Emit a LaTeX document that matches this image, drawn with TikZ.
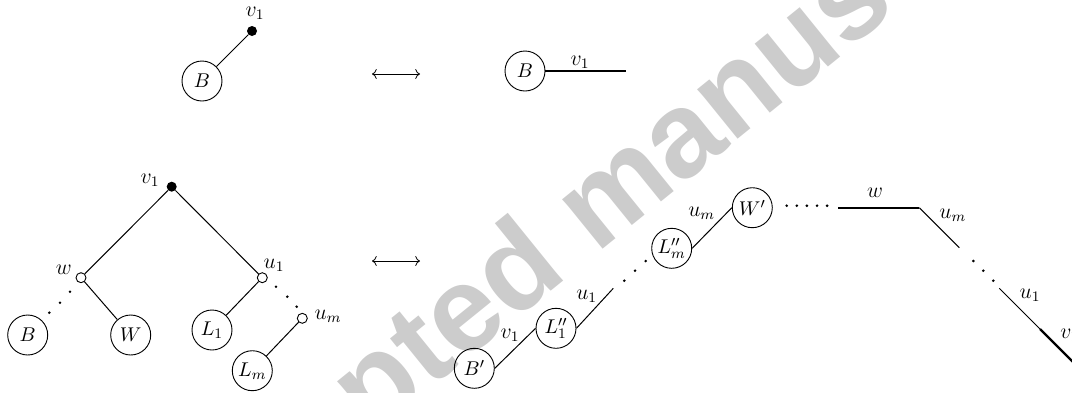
\documentclass[tikz,border=0pt]{standalone}
\usepackage{fontspec}
\newfontfamily\wmfont{Liberation Sans}
\usetikzlibrary{arrows.meta}
\begin{document}
\begin{tikzpicture}[x=0.55pt,y=-0.55pt,
  cir/.style={draw, circle, minimum size=22pt, inner sep=0pt, line width=0.5pt, font=\fontsize{11}{13}\selectfont},
  bigdot/.style={circle, fill, minimum size=5.5pt, inner sep=0pt},
  opendot/.style={circle, draw, fill=white, minimum size=5.5pt, inner sep=0pt, line width=0.5pt},
  ln/.style={line width=0.55pt},
  thk/.style={line width=1.2pt},
  lab/.style={inner sep=0pt, font=\fontsize{12}{14}\selectfont},
  smalldot/.style={circle, fill, minimum size=1.6pt, inner sep=0pt},
  dblarrow/.style={line width=0.45pt, {Computer Modern Rightarrow}-{Computer Modern Rightarrow}},
  wm/.style={text=black!20, font=\wmfont\bfseries\fontsize{66.5}{70}\selectfont, inner sep=0pt, outer sep=0pt, rotate=39}
]
\useasboundingbox (0,0) rectangle (1072,392);
\clip (0,0) rectangle (1072,392);

% watermark
\node[wm, anchor=base] (wmark) at (625,231.4) {Accepted manuscript};

% ---- top left
\node[bigdot] (tv) at (252,31) {};
\node[lab] (tvl) at (255,13) {$v_1$};
\node[cir] (tB) at (202,81) {$B$};
\draw[ln] (tv) -- (tB);

% top arrow
\coordinate (a1l) at (372,74);
\coordinate (a1r) at (420,74);
\draw[dblarrow] (a1l) -- (a1r);

% ---- top right
\node[cir] (trB) at (525,71) {$B$};
\coordinate (tre) at (626,71);
\draw[thk] (trB) -- (tre);
\node[lab] (trl) at (580,62) {$v_1$};

% ---- bottom left tree
\node[bigdot] (bv) at (171.7,186.7) {};
\node[lab] (bvl) at (150,180.5) {$v_1$};
\node[opendot] (bw) at (81,277.7) {};
\node[lab] (bwl) at (63.7,270) {$w$};
\node[opendot] (bu1) at (262.3,277.7) {};
\node[lab] (bu1l) at (274,265.5) {$u_1$};
\node[opendot] (bum) at (302.3,318.3) {};
\node[lab] (buml) at (328,316.5) {$u_m$};
\node[cir] (bB) at (27.7,335) {$B$};
\node[cir] (bW) at (130.7,335) {$W$};
\node[cir] (bL1) at (212,330) {$L_1$};
\node[cir] (bLm) at (252.3,370.7) {$L_m$};
\draw[ln] (bv) -- (bw);
\draw[ln] (bv) -- (bu1);
\draw[ln] (bw) -- (bW);
\draw[ln] (bu1) -- (bL1);
\draw[ln] (bum) -- (bLm);
\node[smalldot] (d1) at (70,291.7) {};
\node[smalldot] (d2) at (60,302.7) {};
\node[smalldot] (d3) at (49.3,312.7) {};
\node[smalldot] (d4) at (276,286.7) {};
\node[smalldot] (d5) at (287.3,296.7) {};
\node[smalldot] (d6) at (296.7,306.7) {};

% bottom arrow
\coordinate (a2l) at (372,261);
\coordinate (a2r) at (420,261);
\draw[dblarrow] (a2l) -- (a2r);

% ---- bottom right chain
\node[cir] (Bp) at (474.3,368.3) {$B'$};
\node[cir] (L1pp) at (556,328.3) {$L_1''$};
\node[cir] (Lmpp) at (671.7,248.3) {$L_m''$};
\node[cir] (Wp) at (752.3,207.7) {$W'$};
\coordinate (c1) at (613.3,288.3);
\coordinate (c2) at (838.3,207.7);
\coordinate (c3) at (919.3,207.7);
\coordinate (c4) at (959.3,247.7);
\coordinate (c5) at (999.3,288.3);
\coordinate (c6) at (1040,329);
\coordinate (c7) at (1082,371);
\draw[ln] (Bp.east) -- (L1pp.west);
\draw[ln] (L1pp.east) -- (c1);
\draw[ln] (Lmpp.east) -- (Wp.west);
\draw[thk] (c2) -- (c3);
\draw[ln] (c3) -- (c4);
\draw[ln] (c5) -- (c6);
\draw[thk] (c6) -- (c7);
\node[lab] (l1) at (510,335) {$v_1$};
\node[lab] (l2) at (586.7,296) {$u_1$};
\node[lab] (l3) at (701.7,213.3) {$u_m$};
\node[lab] (l4) at (875,192.7) {$w$};
\node[lab] (l5) at (952.7,215) {$u_m$};
\node[lab] (l6) at (1030,295) {$u_1$};
\node[lab, anchor=base west] (l7) at (1060,338) {$v_1$};
\node[smalldot] (e1) at (624.3,280.7) {};
\node[smalldot] (e2) at (635,270.7) {};
\node[smalldot] (e3) at (645.7,261) {};
\node[smalldot] (e4) at (786.7,205.7) {};
\node[smalldot] (e5) at (796.8,205.7) {};
\node[smalldot] (e6) at (806.9,205.7) {};
\node[smalldot] (e7) at (817,205.7) {};
\node[smalldot] (e8) at (827.1,205.7) {};
\node[smalldot] (e9) at (973.3,261) {};
\node[smalldot] (e10) at (983.3,270.7) {};
\node[smalldot] (e11) at (993.3,280.7) {};
\end{tikzpicture}
\end{document}
